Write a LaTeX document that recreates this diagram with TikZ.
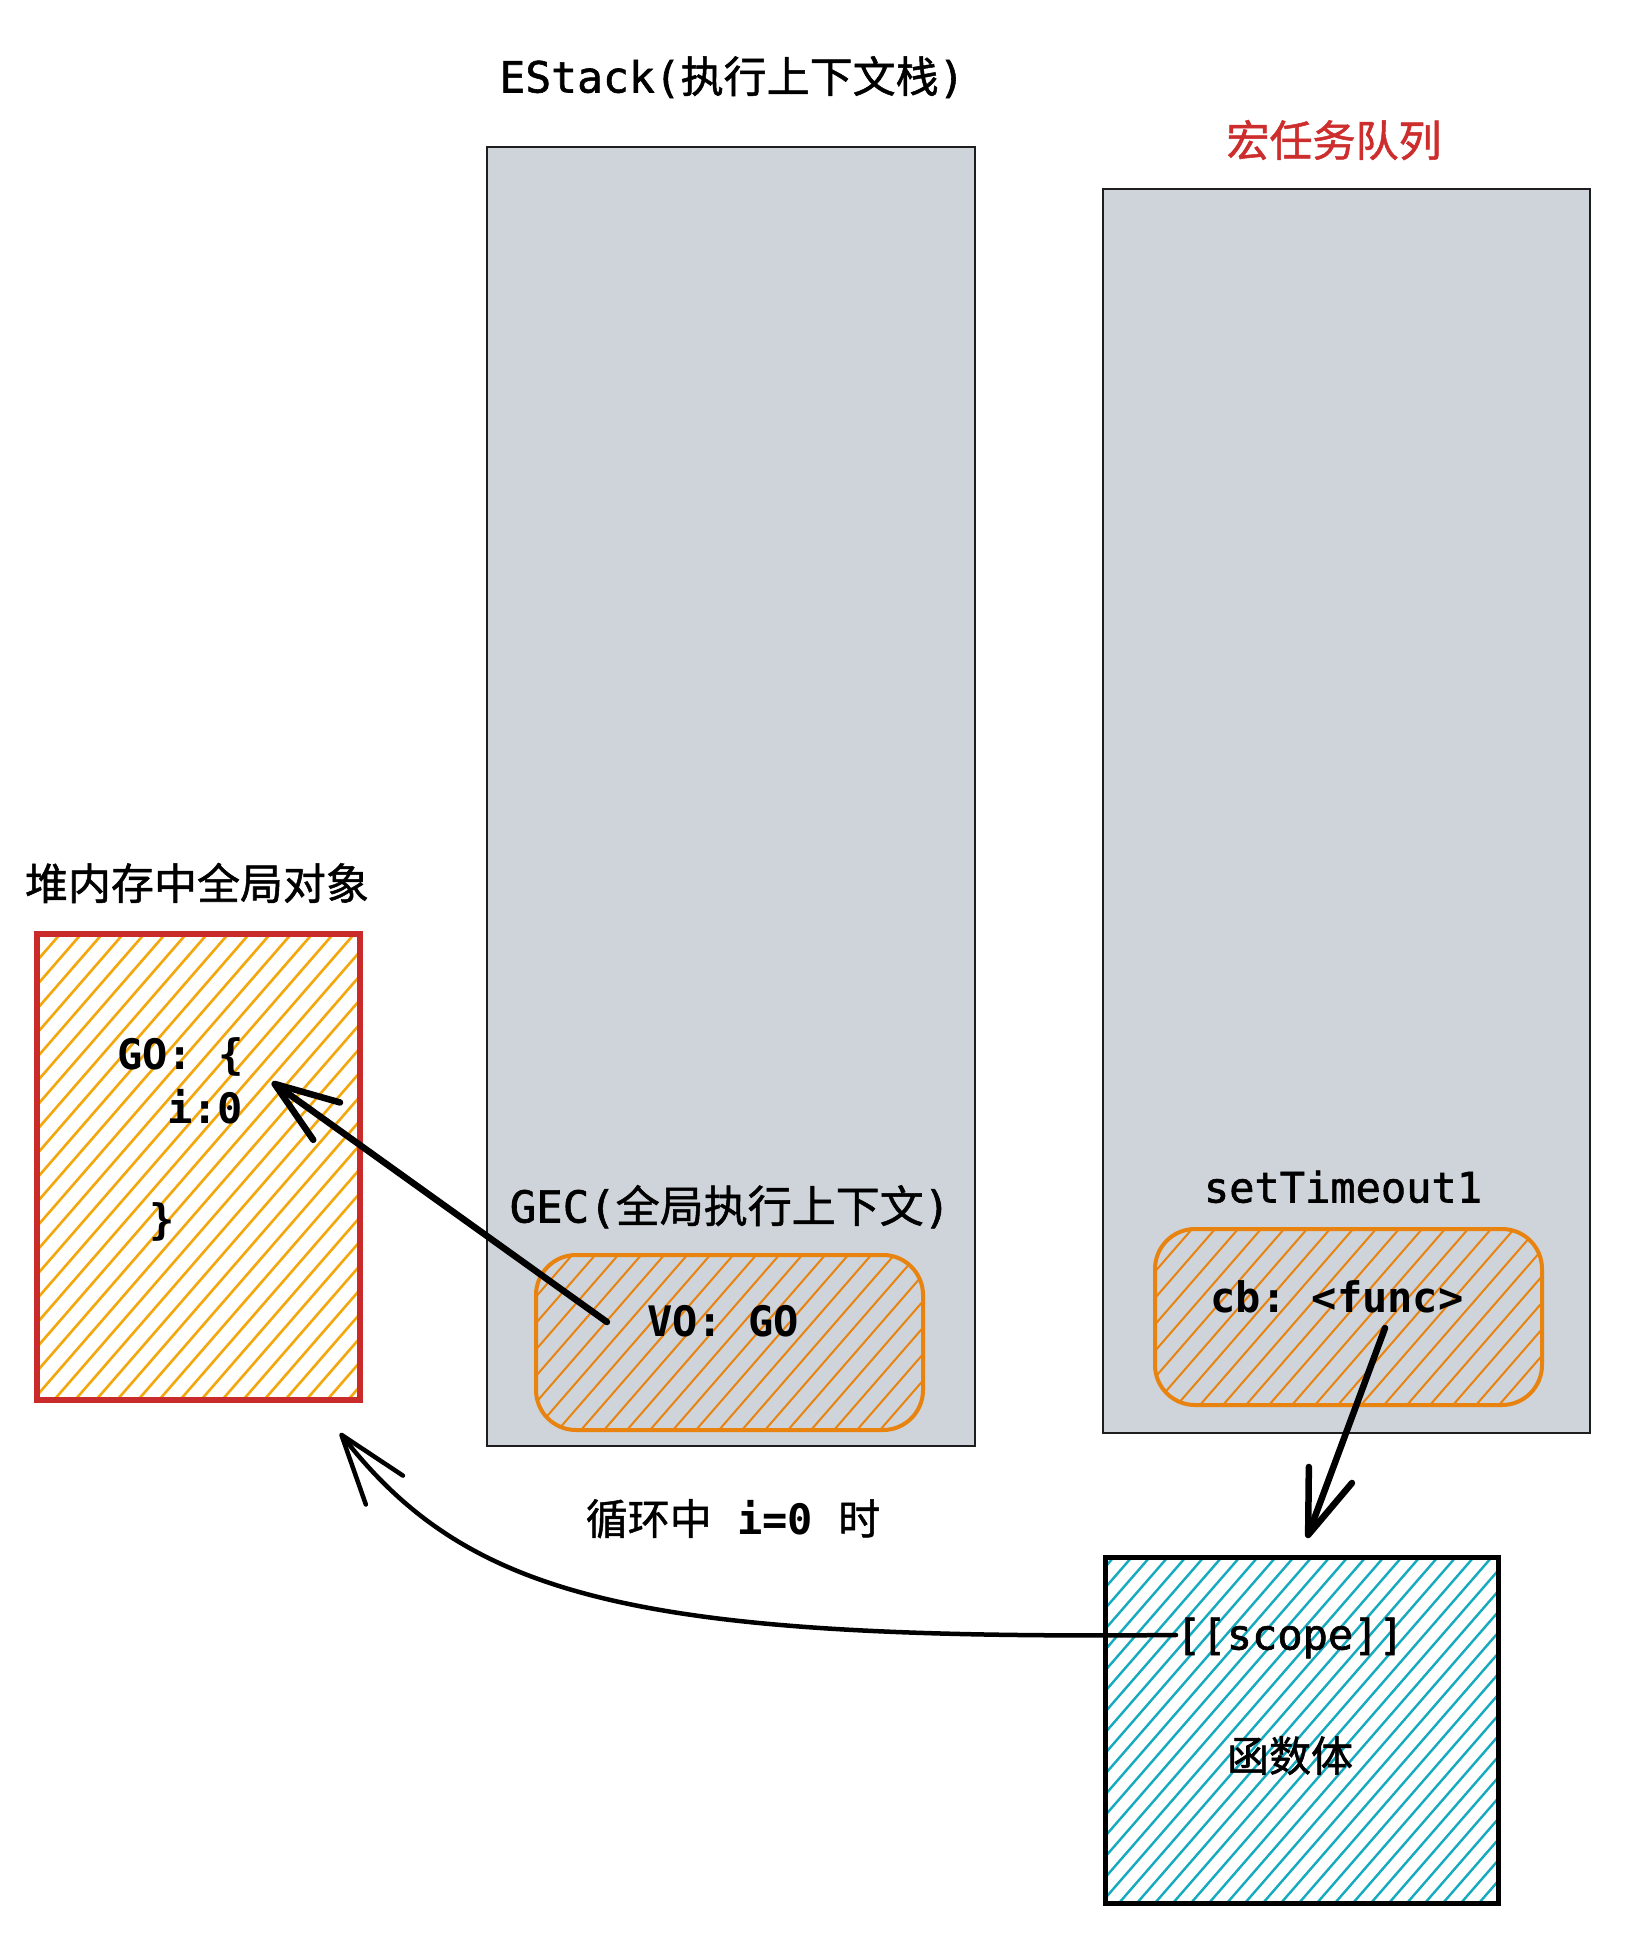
\documentclass[tikz,border=0pt]{standalone}
\usepackage{fontspec}
\setmonofont{DejaVu Sans Mono}
\newfontfamily\cjk[FakeBold=1.2]{Noto Sans CJK SC}
\newfontfamily\codefont[FakeBold=1.4]{DejaVu Sans Mono}
\usetikzlibrary{arrows.meta,calc}

\definecolor{panelgray}{HTML}{CED4DA}
\definecolor{panelline}{HTML}{1E1E1E}
\definecolor{ctxorange}{HTML}{E98310}
\definecolor{heapred}{HTML}{C92A2A}
\definecolor{heapyellow}{HTML}{F4A70C}
\definecolor{bodycyan}{HTML}{15AABF}
\definecolor{queuered}{HTML}{CD2D2D}

\tikzset{
  % diagonal hachure clipped to the node outline: colour, spacing, stroke width
  hatched/.style n args={3}{path picture={
      \foreach \k in {0,...,90}
        \draw[draw=#1, line width=#3, line cap=round]
          ($(path picture bounding box.south west)+({\k*#2-760},0)$) -- ++(800,-920);}},
  panel/.style={draw=panelline, fill=panelgray, line width=2.5pt, inner sep=0pt},
  ctxbox/.style={draw=ctxorange, line width=4pt, rounded corners=40pt, inner sep=0pt,
    hatched={ctxorange}{23}{2pt}},
  heapbox/.style={draw=heapred, fill=white, line width=6pt, inner sep=0pt,
    hatched={heapyellow}{21}{2.6pt}},
  bodybox/.style={draw=black, fill=white, line width=5pt, inner sep=0pt,
    hatched={bodycyan}{18}{2.4pt}},
  lbl/.style={inner sep=0pt, text height=31pt, text depth=2pt},
  code/.style={lbl, font=\fontsize{42}{50}\selectfont\codefont},
  codebold/.style={lbl, font=\fontsize{42}{50}\selectfont\ttfamily\bfseries},
  cjklabel/.style={lbl, font=\fontsize{43}{50}\selectfont\cjk},
  link/.style={draw=black, line width=6.5pt, line cap=round, line join=round,
    -{Straight Barb[length=64pt,width=46pt,round]}},
}

\begin{document}
\begin{tikzpicture}[x=1pt,y=-1pt]
\path[use as bounding box, fill=white] (0,0) rectangle (1640,1954);

% execution context stack and macrotask queue
\node[panel, minimum width=488pt, minimum height=1299pt] (estack) at (731,796.5) {};
\node[panel, minimum width=487pt, minimum height=1244pt] (queue) at (1346.5,811) {};
\node[lbl, font=\fontsize{43}{50}\selectfont\codefont] (estackTitle) at (732,78)
  {EStack(\cjk 执行上下文栈\codefont)};
\node[cjklabel, text=queuered] (queueTitle) at (1334,142) {宏任务队列};

% global execution context
\node[lbl, font=\fontsize{44}{52}\selectfont\codefont] (gecTitle) at (730,1208)
  {GEC(\cjk 全局执行上下文\codefont)};
\node[ctxbox, minimum width=387pt, minimum height=175pt] (gec) at (729.5,1342.5) {};
\node[codebold] (vo) at (723,1322) {VO: GO};

% queued timer callback
\node[code] (timerTitle) at (1343,1188) {setTimeout1};
\node[ctxbox, minimum width=387pt, minimum height=176pt] (timer) at (1348.5,1317) {};
\node[codebold] (cb) at (1337,1298) {cb: <func>};

% global object on the heap
\node[cjklabel] (heapTitle) at (197,885) {堆内存中全局对象};
\node[heapbox, minimum width=323pt, minimum height=466pt] (heap) at (198.5,1167) {};
\node[codebold, anchor=west] (goOpen) at (117,1055) {GO: \{};
\node[codebold, anchor=west] (goField) at (167,1109) {i:0};
\node[codebold] (goClose) at (162,1220) {\}};

% function object
\node[bodybox, minimum width=393pt, minimum height=346pt] (body) at (1301.5,1730) {};
\node[code] (scope) at (1290,1635) {[[scope]]};
\node[cjklabel, font=\fontsize{42}{50}\selectfont\cjk] (bodyText) at (1290,1757) {函数体};

% loop note
\node[lbl, font=\fontsize{42}{50}\selectfont] (loopNote) at (733,1520)
  {\cjk 循环中\ttfamily\ \textbf{i=0}\ \cjk 时};

% references
\coordinate (voTail) at ($(vo.west)+(-40,0)$);
\coordinate (goTip) at (272,1082);
\draw[link] (voTail) -- (goTip);

\coordinate (cbTail) at (1385,1328);
\coordinate (bodyTip) at (1307,1538);
\draw[link] (cbTail) -- (bodyTip);

\coordinate (heapTip) at (340,1433);
\draw[link, line width=4.5pt, -{Straight Barb[length=70pt,width=47pt,round]}]
  (scope.west) .. controls (640,1640) and (470,1600) .. (heapTip);
\end{tikzpicture}
\end{document}
